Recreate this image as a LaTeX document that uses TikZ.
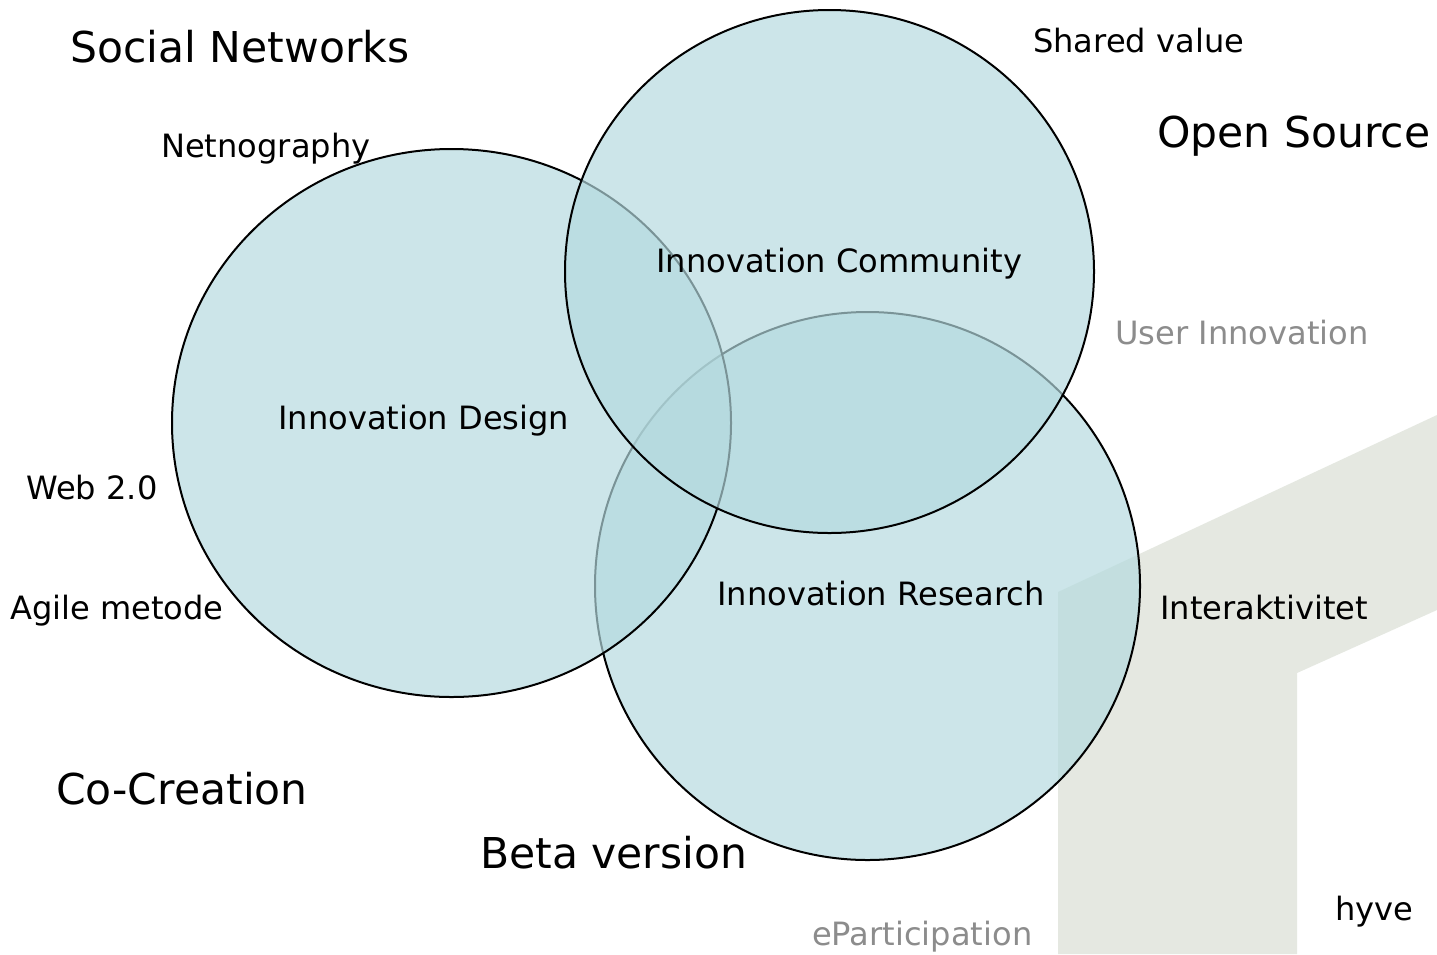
\documentclass[tikz,border=0pt]{standalone}
\usepackage{fontspec}
\setmainfont{DejaVu Sans}
\usetikzlibrary{shapes.geometric}
\definecolor{circfill}{RGB}{180,218,223}
\definecolor{bgshape}{RGB}{229,232,225}
\definecolor{greytext}{RGB}{140,140,140}
\tikzset{
  circ/.style={ellipse, draw=black, line width=2pt, fill=circfill, fill opacity=0.68, inner sep=0pt},
  big/.style={anchor=base west, font=\fontsize{42.5}{50}\selectfont, inner sep=0pt},
  mid/.style={anchor=base west, font=\fontsize{32.1}{38}\selectfont, inner sep=0pt},
  grey/.style={text=greytext}
}
\begin{document}
\begin{tikzpicture}[x=1pt,y=-1pt]
\useasboundingbox (0,0) rectangle (1437,954);
\fill[white] (0,0) rectangle (1437,954);
% background shape
\fill[bgshape] (1058,592) -- (1437,415) -- (1437,610) -- (1297,673) -- (1297,954) -- (1058,954) -- cycle;
% circles
\node[circ, minimum width=545pt, minimum height=548pt] (research) at (867.5,586) {};
\node[circ, minimum width=559pt, minimum height=548pt] (design) at (451.5,423) {};
\node[circ, minimum width=529pt, minimum height=523pt] (community) at (829.5,271.5) {};
% labels
\node[big] (sn) at (70,62) {Social Networks};
\node[mid] (netno) at (161,157) {Netnography};
\node[mid] (shared) at (1033,52) {Shared value};
\node[big] (os) at (1157,147) {Open Source};
\node[mid] (ic) at (656,272) {Innovation Community};
\node[mid,grey] (ui) at (1115,344) {User Innovation};
\node[mid] (id) at (278,429) {Innovation Design};
\node[mid] (web) at (26,499) {Web 2.0};
\node[mid] (agile) at (10,619) {Agile metode};
\node[mid] (ir) at (717,605) {Innovation Research};
\node[mid] (inter) at (1160,619) {Interaktivitet};
\node[big] (cc) at (56,804) {Co-Creation};
\node[big] (beta) at (480,868) {Beta version};
\node[mid,grey] (epart) at (812,945) {eParticipation};
\node[mid] (hyve) at (1335,920) {hyve};
\end{tikzpicture}
\end{document}
